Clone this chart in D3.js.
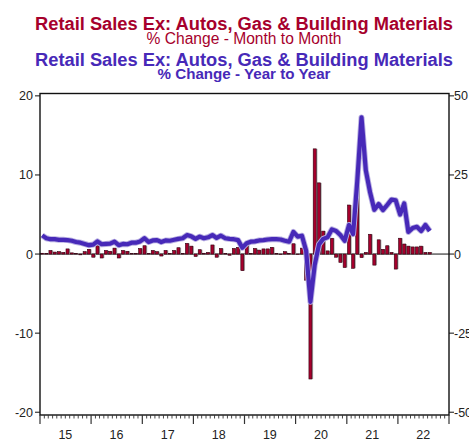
<!DOCTYPE html>
<html>
<head>
<meta charset="utf-8">
<script src="https://cdn.jsdelivr.net/npm/d3@7.9.0/dist/d3.min.js"></script>
<style>
  html, body { margin: 0; padding: 0; background: #fff; }
  svg { display: block; font-family: 'Liberation Sans', Arial, sans-serif; }
</style>
</head>
<body>
<svg id="chart" width="469" height="439"></svg>
<script>
// monthly observations, Jan 2015 - Aug 2022
const months = [
  '2015-01','2015-02','2015-03','2015-04','2015-05','2015-06','2015-07','2015-08','2015-09','2015-10','2015-11','2015-12',
  '2016-01','2016-02','2016-03','2016-04','2016-05','2016-06','2016-07','2016-08','2016-09','2016-10','2016-11','2016-12',
  '2017-01','2017-02','2017-03','2017-04','2017-05','2017-06','2017-07','2017-08','2017-09','2017-10','2017-11','2017-12',
  '2018-01','2018-02','2018-03','2018-04','2018-05','2018-06','2018-07','2018-08','2018-09','2018-10','2018-11','2018-12',
  '2019-01','2019-02','2019-03','2019-04','2019-05','2019-06','2019-07','2019-08','2019-09','2019-10','2019-11','2019-12',
  '2020-01','2020-02','2020-03','2020-04','2020-05','2020-06','2020-07','2020-08','2020-09','2020-10','2020-11','2020-12',
  '2021-01','2021-02','2021-03','2021-04','2021-05','2021-06','2021-07','2021-08','2021-09','2021-10','2021-11','2021-12',
  '2022-01','2022-02','2022-03','2022-04','2022-05','2022-06','2022-07','2022-08'
];

// % change month to month (bars, left axis)
const momChange = [
  0.1, 0.05, 0.45, 0.25, 0.3, 0.2, 0.65, 0.15, 0.05, -0.1, 0.3, 0.6,
  -0.4, 1.05, -0.5, 0.45, 0.35, 0.75, -0.5, 0.45, 0.35, 0.05, 0.05, 0.7,
  1.05, 0.05, 0.45, 0.3, -0.25, 0.45, 0.05, 0.45, 0.8, 0.05, 1.35, 1.0,
  -0.3, 0.55, 0.1, 0.2, 1.15, -0.4, 0.7, 0.05, -0.15, 0.7, 0.85, -2.1,
  1.5, 0.05, 0.7, 0.5, 0.65, 0.65, 0.85, 0.05, -0.05, 0.3, 0.05, 1.3,
  -0.05, 0.75, -3.3, -15.8, 13.3, 9.0, 2.9, 0.4, 2.0, -0.4, -1.05, -1.7,
  6.2, -1.8, 9.7, -0.45, 0.2, 2.5, -1.4, 1.8, 0.6, 1.05, 0.2, -1.9,
  2.0, 1.27, 1.0, 0.9, 0.9, 1.0, 0.2, 0.2
];

// % change year to year (line, right axis)
const yoyChange = [
  5.9, 5.0, 4.7, 4.7, 4.5, 4.5, 4.4, 4.2, 3.8, 3.6, 3.2, 2.8,
  3.0, 4.0, 3.1, 3.2, 3.3, 3.9, 2.8, 3.2, 3.1, 3.6, 3.6, 4.0,
  5.0, 3.8, 4.3, 4.4, 3.8, 4.3, 4.2, 4.5, 4.8, 5.0, 6.0, 5.6,
  4.8, 5.5, 5.0, 5.3, 6.0, 5.1, 5.8, 5.0, 4.8, 4.7, 4.4, 2.0,
  3.4, 3.9, 4.0, 4.3, 4.4, 4.6, 4.7, 4.7, 4.6, 4.2, 3.9, 7.0,
  5.5, 5.8, 1.0, -15.1, -3.5, 3.0, 4.8, 5.3, 7.8, 7.3, 6.0, 4.2,
  9.2, 6.3, 23.0, 43.2, 26.5, 19.5, 14.0, 15.8, 13.9, 15.5, 17.2, 17.0,
  12.5, 16.0, 7.0, 8.2, 8.6, 7.3, 9.2, 7.3
];

const yearLabels = ['15', '16', '17', '18', '19', '20', '21', '22'];
const leftTicks = [20, 10, 0, -10, -20];
const rightTicks = [50, 25, 0, -25, -50];

const red = '#a6002c';
const blue = '#4729b8';

const svg = d3.select('#chart');
const parseMonth = d3.timeParse('%Y-%m');
const dates = months.map(parseMonth);

const plotLeft = 40, plotRight = 449, plotTop = 93.5, plotBottom = 415;

const x = d3.scaleTime()
  .domain([new Date(2015, 0, 1), new Date(2023, 0, 1)])
  .range([plotLeft, plotRight]);
const yLeft = d3.scaleLinear().domain([-20.35, 20.3]).range([plotBottom, plotTop]);
const yRight = d3.scaleLinear().domain([-20.35 * 2.5, 20.3 * 2.5]).range([plotBottom, plotTop]);

const monthCenter = (d) => (x(d) + x(d3.timeMonth.offset(d, 1))) / 2;

// titles
const titles = [
  { text: 'Retail Sales Ex: Autos, Gas & Building Materials', y: 29.5, size: 18, weight: 'bold', color: red, len: 418 },
  { text: '% Change - Month to Month', y: 44.3, size: 16, weight: 'normal', color: red, len: 195 },
  { text: 'Retail Sales Ex: Autos, Gas & Building Materials', y: 65.8, size: 18, weight: 'bold', color: blue, len: 418 },
  { text: '% Change - Year to Year', y: 79.3, size: 15.5, weight: 'bold', color: blue, len: 173 }
];
svg.selectAll('text.title')
  .data(titles)
  .join('text')
  .attr('class', 'title')
  .attr('x', 244)
  .attr('y', (d) => d.y)
  .attr('text-anchor', 'middle')
  .attr('font-size', (d) => d.size)
  .attr('font-weight', (d) => d.weight)
  .attr('fill', (d) => d.color)
  .attr('textLength', (d) => d.len)
  .attr('lengthAdjust', 'spacingAndGlyphs')
  .text((d) => d.text);

// zero line
svg.append('line')
  .attr('x1', plotLeft).attr('x2', plotRight)
  .attr('y1', yLeft(0)).attr('y2', yLeft(0))
  .attr('stroke', '#111').attr('stroke-width', 1);

// bars: shadow then fill
const barW = 3;
const bars = svg.append('g');
bars.selectAll('rect.shadow')
  .data(momChange)
  .join('rect')
  .attr('class', 'shadow')
  .attr('x', (d, i) => monthCenter(dates[i]) - barW / 2 + 1.2)
  .attr('y', (d) => Math.min(yLeft(d), yLeft(0)))
  .attr('width', barW)
  .attr('height', (d) => Math.abs(yLeft(d) - yLeft(0)))
  .attr('fill', '#a8a8a8');
bars.selectAll('rect.bar')
  .data(momChange)
  .join('rect')
  .attr('class', 'bar')
  .attr('x', (d, i) => monthCenter(dates[i]) - barW / 2)
  .attr('y', (d) => Math.min(yLeft(d), yLeft(0)))
  .attr('width', barW)
  .attr('height', (d) => Math.abs(yLeft(d) - yLeft(0)))
  .attr('fill', red)
  .attr('stroke', '#300010')
  .attr('stroke-width', 0.6);

// y/y line
const line = d3.line()
  .x((d, i) => monthCenter(dates[i]))
  .y((d) => yRight(d));
svg.append('path')
  .datum(yoyChange)
  .attr('d', line)
  .attr('fill', 'none')
  .attr('stroke', '#b9b0e2')
  .attr('stroke-width', 6)
  .attr('stroke-linejoin', 'round');
svg.append('path')
  .datum(yoyChange)
  .attr('d', line)
  .attr('fill', 'none')
  .attr('stroke', blue)
  .attr('stroke-width', 4.2)
  .attr('stroke-linejoin', 'round');

// frame
svg.append('rect')
  .attr('x', plotLeft).attr('y', plotTop)
  .attr('width', plotRight - plotLeft).attr('height', plotBottom - plotTop)
  .attr('fill', 'none').attr('stroke', '#111').attr('stroke-width', 1.4);

// left axis
const leftAxis = svg.append('g');
leftAxis.selectAll('line')
  .data(leftTicks)
  .join('line')
  .attr('x1', plotLeft - 5).attr('x2', plotLeft)
  .attr('y1', (d) => yLeft(d)).attr('y2', (d) => yLeft(d))
  .attr('stroke', '#111');
leftAxis.selectAll('text')
  .data(leftTicks)
  .join('text')
  .attr('x', plotLeft - 7)
  .attr('y', (d) => yLeft(d) + 4.5)
  .attr('text-anchor', 'end')
  .attr('font-size', 12.5)
  .attr('fill', '#222')
  .text((d) => d);

// right axis
const rightAxis = svg.append('g');
rightAxis.selectAll('line')
  .data(rightTicks)
  .join('line')
  .attr('x1', plotRight).attr('x2', plotRight + 5)
  .attr('y1', (d) => yRight(d)).attr('y2', (d) => yRight(d))
  .attr('stroke', '#111');
rightAxis.selectAll('text')
  .data(rightTicks)
  .join('text')
  .attr('x', plotRight + 5)
  .attr('y', (d) => yRight(d) + 4.5)
  .attr('font-size', 12.5)
  .attr('fill', '#222')
  .text((d) => d);

// bottom axis: monthly minor ticks, yearly major ticks
const tickMonths = d3.timeMonth.range(new Date(2015, 0, 1), new Date(2023, 0, 2));
svg.append('g')
  .selectAll('line')
  .data(tickMonths)
  .join('line')
  .attr('x1', (d) => x(d)).attr('x2', (d) => x(d))
  .attr('y1', plotBottom)
  .attr('y2', (d) => plotBottom + (d.getMonth() === 0 ? 9 : 3.5))
  .attr('stroke', '#333')
  .attr('stroke-width', (d) => (d.getMonth() === 0 ? 1.2 : 0.9));

svg.append('g')
  .selectAll('text')
  .data(yearLabels)
  .join('text')
  .attr('x', (d) => x(new Date(2000 + +d, 6, 1)))
  .attr('y', 438.5)
  .attr('text-anchor', 'middle')
  .attr('font-size', 12.5)
  .attr('fill', '#222')
  .text((d) => d);
</script>
</body>
</html>
